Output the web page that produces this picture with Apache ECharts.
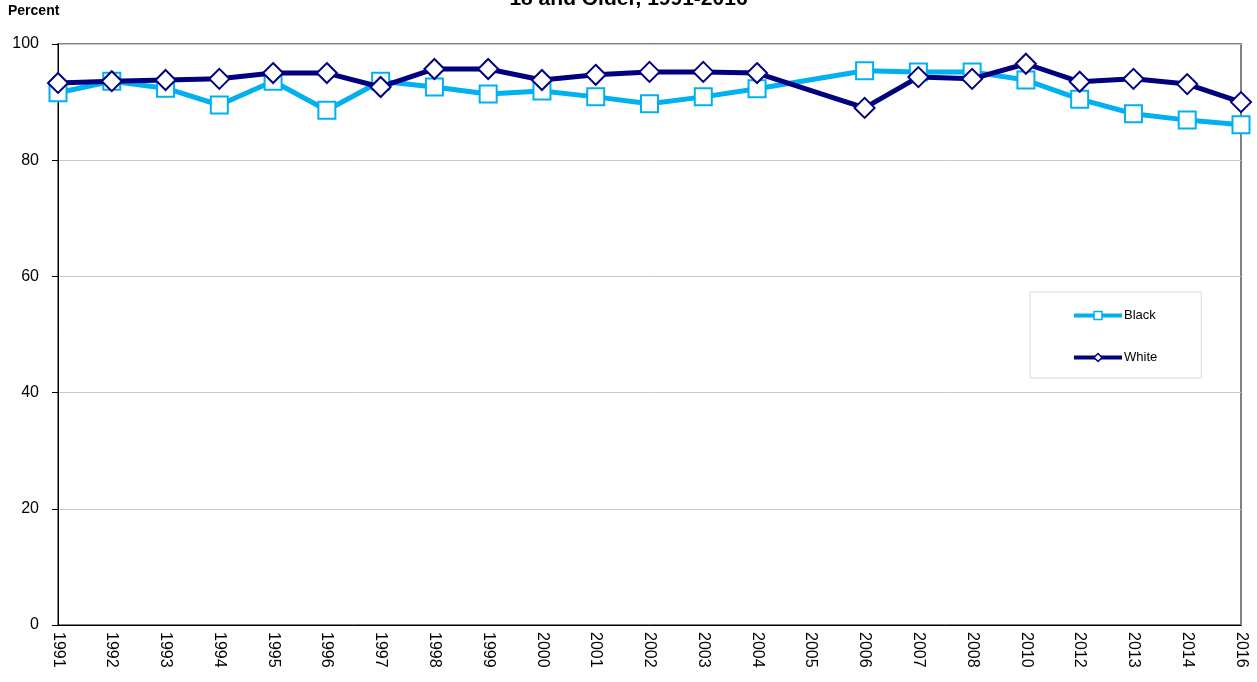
<!DOCTYPE html>
<html>
<head>
<meta charset="utf-8">
<script src="https://cdn.jsdelivr.net/npm/echarts@6/dist/echarts.min.js"></script>
<style>
html,body{margin:0;padding:0;background:#fff;}
#chart{width:1257px;height:682px;}
</style>
</head>
<body>
<div id="chart"></div>
<script>
var years = ['1991','1992','1993','1994','1995','1996','1997','1998','1999','2000','2001','2002','2003','2004','2005','2006','2007','2008','2010','2012','2013','2014','2016'];
var black = [91.6,93.6,92.4,89.5,93.6,88.6,93.6,92.6,91.4,91.9,90.9,89.7,90.9,92.3,null,95.4,95.2,95.2,93.8,90.5,88.0,86.9,86.1];
var white = [93.3,93.6,93.8,94.0,95.0,95.0,92.6,95.7,95.7,93.8,94.7,95.2,95.2,95.0,null,89.0,94.3,94.0,96.6,93.5,94.0,93.1,90.0];
var yTicks = [0,20,40,60,80,100];

var chart = echarts.init(document.getElementById('chart'));
var font = 'Liberation Sans, Arial, sans-serif';

var option = {
  animation: false,
  textStyle: {fontFamily: font},
  graphic: [
    {type:'text', left: 8, top: 4, style:{text:'Percent', font:'bold 14px ' + font, fill:'#000'}},
    {type:'text', left: 'center', top: -11, style:{text:'18 and Older, 1991-2016', font:'bold 21px ' + font, fill:'#000'}}
  ],
  grid: {left: 58, right: 16, top: 44, bottom: 57, show: true, borderColor: '#808080', borderWidth: 2, backgroundColor: '#fff'},
  legend: {
    orient: 'vertical',
    left: 1030, top: 292,
    padding: [17, 44, 14, 42],
    itemWidth: 48, itemHeight: 10,
    itemGap: 29,
    borderColor: '#d9d9d9', borderWidth: 1,
    textStyle: {fontSize: 13, color: '#000', fontFamily: font, padding: [0,0,0,-3]},
    data: [
      {name:'Black', itemStyle:{color:'#fff', borderColor:'#00B0F0', borderWidth:1.5}, lineStyle:{color:'#00B0F0', width:4}},
      {name:'White', itemStyle:{color:'#fff', borderColor:'#000080', borderWidth:1.5}, lineStyle:{color:'#000080', width:4}}
    ]
  },
  xAxis: {
    type: 'category',
    data: years,
    boundaryGap: false,
    axisLine: {lineStyle: {color: '#000', width: 1}},
    axisTick: {show: false},
    axisLabel: {rotate: -90, fontSize: 16, color: '#000', margin: 7, interval: 0},
    splitLine: {show: false}
  },
  yAxis: {
    type: 'value',
    min: yTicks[0], max: yTicks[yTicks.length - 1], interval: 20,
    axisLine: {show: true, lineStyle: {color: '#000', width: 1}},
    axisTick: {show: true, length: 6, lineStyle: {color: '#000'}},
    axisLabel: {fontSize: 16, color: '#000', margin: 19},
    splitLine: {lineStyle: {color: '#c8c8c8', width: 1}}
  },
  series: [
    {
      name: 'Black', type: 'line', data: black, connectNulls: true,
      symbol: 'rect', symbolSize: 17,
      lineStyle: {color: '#00B0F0', width: 5},
      itemStyle: {color: '#fff', borderColor: '#00B0F0', borderWidth: 2},
      z: 2
    },
    {
      name: 'White', type: 'line', data: white, connectNulls: true,
      symbol: 'diamond', symbolSize: [20, 20],
      lineStyle: {color: '#000080', width: 5},
      itemStyle: {color: '#fff', borderColor: '#000080', borderWidth: 2},
      z: 3
    }
  ]
};
chart.setOption(option);
</script>
</body>
</html>
